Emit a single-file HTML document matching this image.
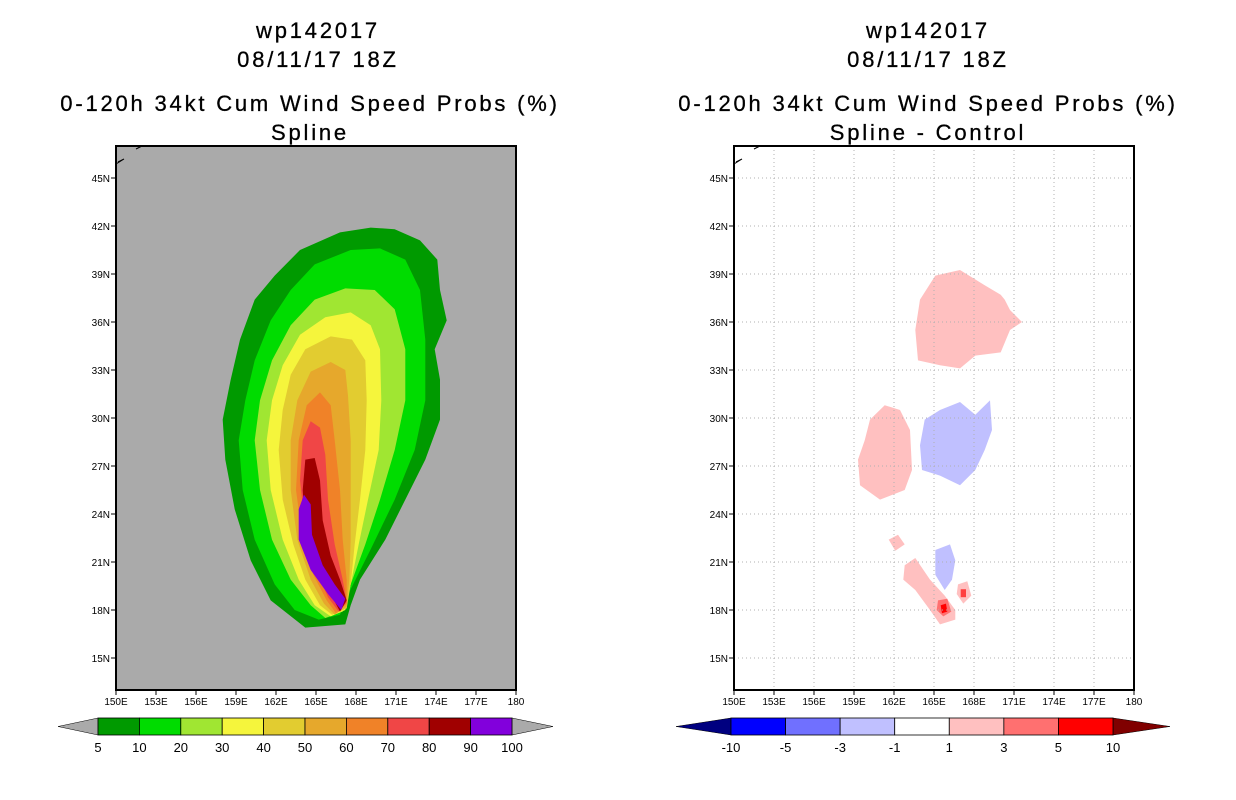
<!DOCTYPE html>
<html><head><meta charset="utf-8"><style>
body{margin:0;background:#fff;}
svg{display:block;font-family:"Liberation Sans",sans-serif;}
.t{font-size:22px;letter-spacing:2.8px;text-anchor:middle;fill:#000;stroke:#000;stroke-width:0.3;}
.tk{font-size:10px;fill:#000;}
.cb{font-size:13px;fill:#000;text-anchor:middle;}
</style></head><body>
<svg id="svg" width="1236" height="800" xmlns="http://www.w3.org/2000/svg">
<g>
<text class="t" x="318" y="38">wp142017</text>
<text class="t" x="318" y="67">08/11/17 18Z</text>
<text class="t" x="310" y="111">0-120h 34kt Cum Wind Speed Probs (%)</text>
<text class="t" x="310" y="140">Spline</text>
</g>
<g>
<text class="t" x="928" y="38">wp142017</text>
<text class="t" x="928" y="67">08/11/17 18Z</text>
<text class="t" x="928" y="111">0-120h 34kt Cum Wind Speed Probs (%)</text>
<text class="t" x="928" y="140">Spline - Control</text>
</g>
<g id="left"></g>
<g id="right"></g>
<g id="lcb"></g>
<g id="rcb"></g>
</svg>
<script>
const NS="http://www.w3.org/2000/svg";
const latTicks=[45,42,39,36,33,30,27,24,21,18,15];
const lonTicks=[150,153,156,159,162,165,168,171,174,177,180];
// Left panel contour levels (lon,lat pairs)
const levColors=["#009a00","#00dc00","#a0e632","#f5f53c","#e2cc30","#e6a82c","#f08228","#f04646","#a00000","#8200dc"];
const levels=[
[[164.2,16.9],[167.2,17.1],[167.6,18.3],[168.3,19.9],[170.2,22.4],[171.7,24.9],[173.2,27.4],[174.3,29.9],[174.3,32.4],[173.9,34.3],[174.8,36.1],[174.3,38.0],[174.1,39.9],[172.8,41.1],[170.9,41.8],[169.1,41.9],[166.8,41.6],[163.8,40.5],[161.9,38.9],[160.4,37.4],[159.3,34.9],[158.6,32.4],[158.0,29.9],[158.2,27.4],[158.9,24.3],[160.1,21.1],[161.6,18.6]],
[[165.2,17.4],[166.8,17.7],[167.6,19.3],[169.1,21.8],[170.9,24.9],[172.4,28.0],[173.2,31.1],[173.2,34.9],[172.8,38.0],[171.7,39.9],[169.8,40.6],[167.6,40.5],[164.9,39.6],[163.1,38.0],[161.6,36.1],[160.4,33.6],[159.7,31.1],[159.2,28.6],[159.5,25.5],[160.4,22.4],[161.9,19.6],[163.4,18.0]],
[[165.7,17.5],[167.0,17.9],[167.6,19.6],[168.7,22.1],[169.8,24.9],[170.9,28.0],[171.7,31.1],[171.7,34.3],[170.9,36.8],[169.4,38.0],[167.2,38.1],[164.9,37.4],[163.1,35.8],[161.7,33.6],[160.8,31.1],[160.4,28.6],[160.8,25.5],[161.7,22.4],[163.1,19.9],[164.6,18.3]],
[[166.1,17.6],[167.2,18.0],[167.6,19.6],[168.2,22.1],[168.9,24.9],[169.7,28.0],[169.9,31.1],[169.8,34.3],[169.1,35.8],[167.6,36.6],[165.7,36.3],[163.8,35.2],[162.5,33.3],[161.7,31.1],[161.3,28.6],[161.6,25.5],[162.5,22.4],[163.7,19.9],[164.9,18.3]],
[[166.2,17.7],[167.3,18.1],[167.6,19.6],[167.9,22.1],[168.3,24.9],[168.7,28.0],[168.8,31.1],[168.7,33.6],[167.7,34.9],[166.1,35.1],[164.2,34.3],[163.1,32.7],[162.5,30.5],[162.2,28.0],[162.5,24.9],[163.3,22.1],[164.2,19.9],[165.3,18.3]],
[[166.4,17.7],[167.3,18.2],[167.5,19.9],[167.6,22.4],[167.6,25.5],[167.6,28.6],[167.4,31.4],[167.2,33.0],[166.1,33.5],[164.6,32.9],[163.6,31.1],[163.1,28.6],[163.1,25.5],[163.6,22.4],[164.6,19.9],[165.6,18.4]],
[[166.5,17.8],[167.3,18.4],[167.3,19.9],[167.0,22.4],[166.8,25.5],[166.4,28.6],[166.1,30.8],[165.3,31.6],[164.3,30.8],[163.7,28.6],[163.5,25.5],[164.0,22.4],[164.8,20.2],[165.8,18.6]],
[[166.7,17.9],[167.3,18.5],[167.0,19.9],[166.4,22.1],[165.9,24.9],[165.7,27.7],[165.3,29.4],[164.6,29.8],[164.0,28.6],[163.8,26.1],[164.2,23.0],[165.0,20.5],[165.9,18.8]],
[[166.8,17.9],[167.3,18.6],[166.8,19.9],[166.1,21.4],[165.5,23.6],[165.3,26.1],[164.9,27.5],[164.2,27.4],[164.0,25.5],[164.2,23.0],[164.9,20.8],[166.1,19.0]],
[[166.9,18.0],[167.2,18.7],[166.4,19.6],[165.5,20.8],[164.7,22.7],[164.6,24.6],[164.1,25.2],[163.7,24.3],[163.7,22.4],[164.6,20.5],[165.9,19.0]]
];
// Right panel difference blobs
const blobColors=["#ffc0c0","#ffc0c0","#c0c0ff","#c0c0ff","#ffc0c0","#ffc0c0","#ffc0c0","#ff7070","#ff0000","#ff4040"];
const blobs=[
[[163.95,37.4],[165.1,38.9],[166.95,39.25],[168.8,38.3],[170.0,37.7],[170.3,37.4],[170.7,36.75],[171.6,36.0],[170.7,35.5],[170.0,34.1],[168.1,33.9],[166.95,33.1],[165.45,33.3],[163.8,33.6],[163.6,35.5]],
[[160.2,29.9],[161.3,30.8],[162.45,30.5],[163.2,29.25],[163.35,26.75],[162.8,25.5],[160.95,24.9],[159.45,25.8],[159.3,27.4],[159.8,28.6]],
[[164.3,29.9],[165.45,30.5],[166.95,31.0],[168.1,30.2],[169.2,31.1],[169.35,29.25],[168.8,28.0],[168.1,26.75],[166.95,25.8],[165.45,26.4],[164.1,26.75],[163.95,28.3]],
[[165.1,21.75],[166.2,22.1],[166.6,21.1],[166.35,19.9],[165.8,19.25],[165.1,20.2]],
[[162.8,20.8],[163.6,21.25],[164.7,19.9],[165.8,18.9],[166.6,18.0],[166.6,17.4],[165.45,17.1],[164.7,18.0],[163.6,19.25],[162.7,19.9]],
[[161.6,22.4],[162.3,22.7],[162.8,22.1],[162.1,21.7]],
[[166.8,19.6],[167.5,19.8],[167.8,18.9],[167.2,18.4],[166.7,19.0]],
[[165.3,18.6],[166.0,18.7],[166.3,17.9],[165.7,17.6],[165.2,18.0]],
[[165.5,18.3],[165.9,18.4],[166.0,17.9],[165.6,17.8]],
[[167.0,19.3],[167.4,19.3],[167.4,18.8],[167.0,18.8]]
];
const lcbLabels=["5","10","20","30","40","50","60","70","80","90","100"];
const rcbLabels=["-10","-5","-3","-1","1","3","5","10"];
const rcbColors=["#0000ff","#7070ff","#c0c0ff","#ffffff","#ffc0c0","#ff7070","#ff0000"];

const PL=116,PT=146,PW=400,PH=544,LON0=150,LON1=180,LAT0=13,LAT1=47;
function xs(lon,ox){return ox+(lon-LON0)/(LON1-LON0)*PW;}
function ys(lat){return PT+(LAT1-lat)/(LAT1-LAT0)*PH;}
function mk(tag,attrs,parent){const e=document.createElementNS(NS,tag);for(const k in attrs)e.setAttribute(k,attrs[k]);parent.appendChild(e);return e;}

function panel(g,ox,bg,polys,cols,grid,prefix){
  const r=mk('rect',{x:ox,y:PT,width:PW,height:PH,fill:bg},g);
  
  
  polys.forEach((p,i)=>{
    const pts=p.map(q=>xs(q[0],ox).toFixed(1)+','+ys(q[1]).toFixed(1)).join(' ');
    const e=mk('polygon',{points:pts,fill:cols[i],'stroke-linejoin':'round'},g);
    
    
  });
  latTicks.forEach(t=>{
    const y=ys(t);
    if(grid) mk('line',{x1:ox,x2:ox+PW,y1:y,y2:y,stroke:'#b0b0b0','stroke-dasharray':'1,3'},g);
    mk('line',{x1:ox-5,x2:ox,y1:y,y2:y,stroke:'#000'},g);
    const tx=mk('text',{x:ox-6,y:y+4,class:'tk','text-anchor':'end'},g);tx.textContent=t+'N';
    
    
  });
  lonTicks.forEach(t=>{
    const x=xs(t,ox);
    if(grid) mk('line',{x1:x,x2:x,y1:PT,y2:PT+PH,stroke:'#b0b0b0','stroke-dasharray':'1,3'},g);
    mk('line',{x1:x,x2:x,y1:PT+PH,y2:PT+PH+5,stroke:'#000'},g);
    const tx=mk('text',{x:x,y:PT+PH+15,class:'tk','text-anchor':'middle'},g);tx.textContent=t+(t===180?'':'E');
    
    
  });
  mk('path',{d:`M${ox} ${PT+18}l8 -5M${ox+2} ${PT+16}l6 -3M${ox+20} ${PT+3}l6 -3`,stroke:'#000',fill:'none'},g);
  mk('rect',{x:ox,y:PT,width:PW,height:PH,fill:'none',stroke:'#000','stroke-width':2},g);
}
panel(document.getElementById('left'),116,'#aaaaaa',levels,levColors,false,'contour-level');
panel(document.getElementById('right'),734,'#ffffff',blobs,blobColors,true,'diff-region');

function colorbar(g,x0,x1,tl,tr,cl,cr,cols,labels,name){
  const y0=718,y1=735,n=cols.length,w=(x1-x0)/n;
  mk('polygon',{points:`${tl},${(y0+y1)/2} ${x0},${y0} ${x0},${y1}`,fill:cl,stroke:'#000','stroke-width':0.5},g);
  mk('polygon',{points:`${tr},${(y0+y1)/2} ${x1},${y0} ${x1},${y1}`,fill:cr,stroke:'#000','stroke-width':0.5},g);
  cols.forEach((c,i)=>{
    const r=mk('rect',{x:x0+i*w,y:y0,width:w,height:y1-y0,fill:c,stroke:'#000','stroke-width':0.8},g);
    
    
  });
  labels.forEach((l,i)=>{
    const t=mk('text',{x:x0+i*w,y:752,class:'cb'},g);t.textContent=l;
    
    
  });
}
colorbar(document.getElementById('lcb'),98,512,58,553,'#aaaaaa','#aaaaaa',levColors,lcbLabels,'left-colorbar');
colorbar(document.getElementById('rcb'),731,1113,676,1170,'#000080','#800000',rcbColors,rcbLabels,'right-colorbar');
</script>
</body></html>
